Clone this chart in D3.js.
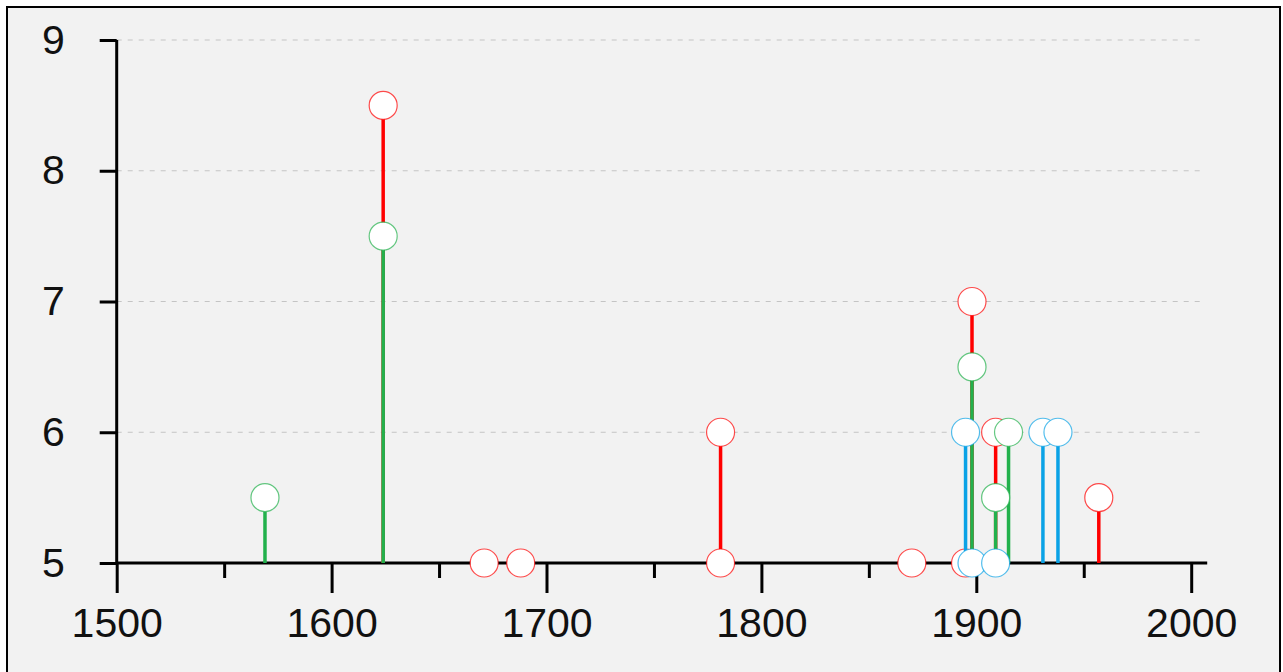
<!DOCTYPE html>
<html>
<head>
<meta charset="utf-8">
<script src="https://cdn.jsdelivr.net/npm/d3@7"></script>
<style>
  body { margin: 0; background: #fff; }
  svg { display: block; font-family: 'Liberation Sans', Arial, sans-serif; }
</style>
</head>
<body>
<div id="chart"></div>
<script>
const redYears = [1624, 1671, 1688, 1781, 1781, 1870, 1895, 1898, 1909, 1957]
const redValues = [8.5, 5, 5, 6, 5, 5, 5, 7, 6, 5.5]
const greenYears = [1569, 1624, 1898, 1909, 1915]
const greenValues = [5.5, 7.5, 6.5, 5.5, 6]
const blueYears = [1895, 1898, 1909, 1931, 1938]
const blueValues = [6, 5, 5, 6, 6]

const xMajorTicks = [1500, 1600, 1700, 1800, 1900, 2000]
const xMinorTicks = [1550, 1650, 1750, 1850, 1950]
const yTicks = [5, 6, 7, 8, 9]

const width = 1283
const height = 672

const svg = d3
  .select('#chart')
  .append('svg')
  .attr('width', width)
  .attr('height', height)

// frame
svg
  .append('rect')
  .attr('x', 7)
  .attr('y', 7)
  .attr('width', 1273)
  .attr('height', 700)
  .attr('fill', '#f2f2f2')
  .attr('stroke', '#000')
  .attr('stroke-width', 2)

const x = d3.scaleLinear().domain([1500, 2000]).range([116.7, 1191.2])
const y = d3.scaleLinear().domain([5, 9]).range([563, 40])

// dashed grid
svg
  .selectAll('.grid')
  .data(yTicks.filter(d => d > 5))
  .enter()
  .append('line')
  .attr('x1', x(1500))
  .attr('x2', 1205)
  .attr('y1', d => y(d))
  .attr('y2', d => y(d))
  .attr('stroke', '#c4c4c4')
  .attr('stroke-width', 1)
  .attr('stroke-dasharray', '5,6')

// x axis
const xAxis = svg
  .append('g')
  .attr('transform', `translate(0,${y(5)})`)
  .call(
    d3
      .axisBottom(x)
      .tickValues(xMajorTicks)
      .tickSize(30)
      .tickPadding(15)
      .tickFormat(d3.format('d'))
  )
xAxis.select('.domain').remove()

const xMinor = svg
  .append('g')
  .attr('transform', `translate(0,${y(5)})`)
  .call(d3.axisBottom(x).tickValues(xMinorTicks).tickSize(15).tickFormat(''))
xMinor.select('.domain').remove()

svg
  .append('line')
  .attr('x1', x(1500))
  .attr('x2', x(2000) + 16)
  .attr('y1', y(5))
  .attr('y2', y(5))
  .attr('stroke', '#000')
  .attr('stroke-width', 3)

// y axis
const yAxis = svg
  .append('g')
  .attr('transform', `translate(${x(1500)},0)`)
  .call(
    d3
      .axisLeft(y)
      .tickValues(yTicks)
      .tickSize(17)
      .tickPadding(35)
      .tickFormat(d3.format('d'))
  )
yAxis.select('.domain').remove()

svg
  .append('line')
  .attr('x1', x(1500))
  .attr('x2', x(1500))
  .attr('y1', y(9))
  .attr('y2', y(5))
  .attr('stroke', '#000')
  .attr('stroke-width', 3)

svg.selectAll('.tick line').attr('stroke', '#000').attr('stroke-width', 3)
svg
  .selectAll('.tick text')
  .attr('fill', '#111')
  .style('font-size', '41px')
  .style('font-family', "'Liberation Sans', Arial, sans-serif")

// lollipops, one series after another
const series = [
  { years: redYears, values: redValues, color: '#ff0000' },
  { years: greenYears, values: greenValues, color: '#22b14c' },
  { years: blueYears, values: blueValues, color: '#0aa2e6' }
]

series.forEach(s => {
  const points = s.years.map((yr, i) => ({ year: yr, value: s.values[i] }))
  const g = svg.append('g')
  g.selectAll('.stem')
    .data(points)
    .enter()
    .append('line')
    .attr('x1', d => x(d.year))
    .attr('x2', d => x(d.year))
    .attr('y1', y(5))
    .attr('y2', d => y(d.value))
    .attr('stroke', s.color)
    .attr('stroke-width', 3.5)
  g.selectAll('.dot')
    .data(points)
    .enter()
    .append('circle')
    .attr('cx', d => x(d.year))
    .attr('cy', d => y(d.value))
    .attr('r', 14)
    .attr('fill', '#fff')
    .attr('stroke', s.color)
    .attr('stroke-opacity', 0.7)
    .attr('stroke-width', 1.2)
})
</script>
</body>
</html>
